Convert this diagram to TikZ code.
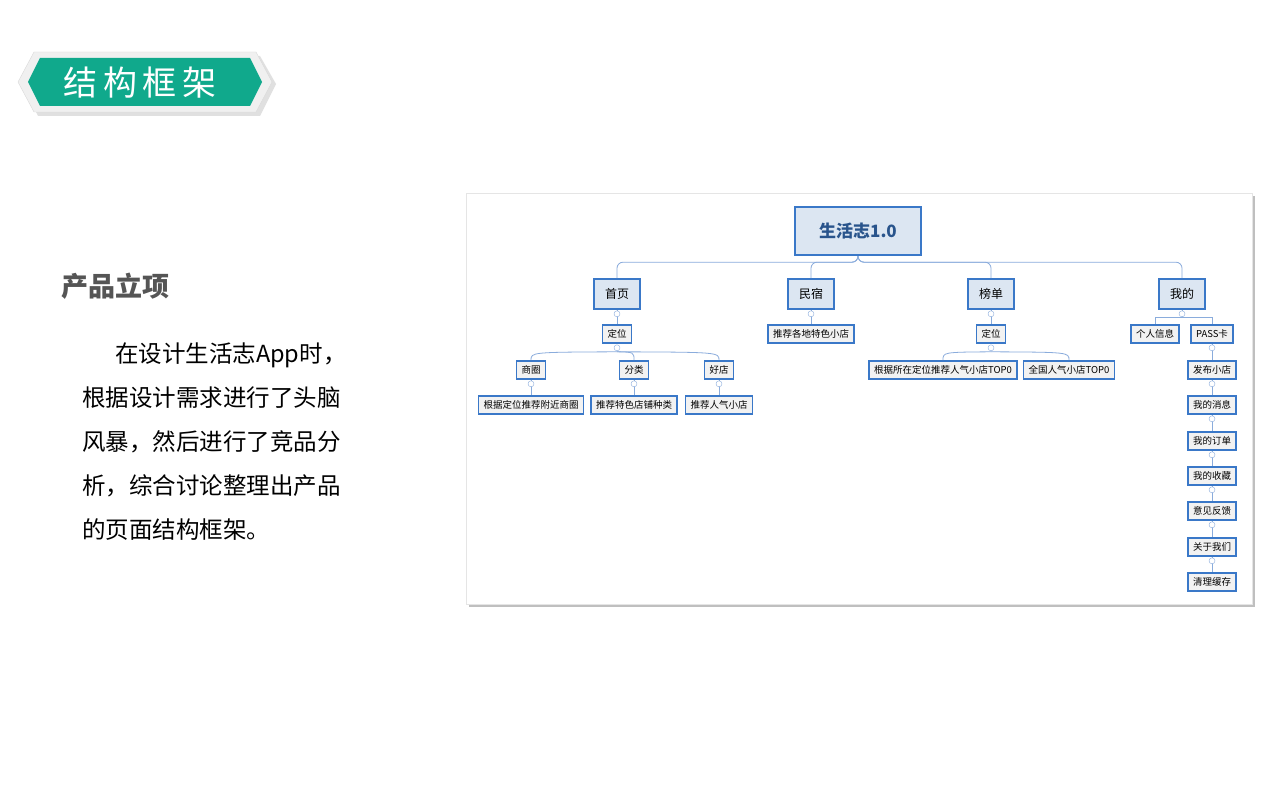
\documentclass[tikz,border=0pt]{standalone}
\usepackage{fontspec}
\setmainfont{Noto Sans CJK SC}
\usetikzlibrary{positioning,shapes.geometric,calc}
\definecolor{teal1}{HTML}{10A98C}
\definecolor{edgeblue}{HTML}{3A78C8}
\definecolor{linkblue}{HTML}{8AACDC}
\definecolor{boxfill}{HTML}{DCE6F2}
\definecolor{leaffill}{HTML}{F2F2F2}
\definecolor{txtgray}{HTML}{555555}
\tikzset{
  root/.style={draw=edgeblue,line width=2.5pt,fill=boxfill,minimum width=126pt,minimum height=48pt,font=\fontsize{17}{17}\selectfont\bfseries,text=edgeblue!70!black},
  topic/.style={draw=edgeblue,line width=1.6pt,fill=boxfill,minimum width=46pt,minimum height=30pt,font=\fontsize{12}{12}\selectfont},
  leaf/.style={draw=edgeblue,line width=1.6pt,fill=leaffill,minimum height=18pt,inner xsep=5pt,font=\fontsize{9.5}{9.5}\selectfont},
  link/.style={draw=linkblue,line width=0.8pt,rounded corners=6pt},
  knob/.style={circle,draw=linkblue,fill=white,inner sep=0pt,minimum size=6pt}
}
\begin{document}
\begin{tikzpicture}[x=1pt,y=-1pt]
	\useasboundingbox (0,0) rectangle (1280,797);
	\fill[white] (0,0) rectangle (1280,797);

	% title banner
	\fill[black!12] (22,84) -- (38,56) -- (260,56) -- (276,84) -- (260,116) -- (38,116) -- cycle;
	\fill[black!6,draw=black!15] (18,82) -- (34,52) -- (256,52) -- (272,82) -- (256,112) -- (34,112) -- cycle;
	\fill[teal1] (28,82) -- (40,58) -- (250,58) -- (262,82) -- (250,106) -- (40,106) -- cycle;
	\node (title) [text=white,font=\fontsize{34}{34}\selectfont] at (140,83) {结\,构\,框\,架};

	% left text
	\node (head) [anchor=west,text=txtgray,font=\fontsize{27}{27}\selectfont\bfseries] at (58,286) {产品立项};
	\node (para) [anchor=north west,inner sep=0pt,font=\fontsize{23.5}{44}\selectfont,align=left] at (82,343)
		{\hspace*{1.4em}在设计生活志App时，\\根据设计需求进行了头脑\\风暴，然后进行了竞品分\\析，综合讨论整理出产品\\的页面结构框架。};

	% panel
	\fill[black!25] (469,196) rectangle (1255,607);
	\fill[white,draw=black!10] (466,193) rectangle (1252,604);

	\node (root) [root] at (858,231) {生活志1.0};
	\node (home) [topic] at (617,294) {首页};
	\node (stay) [topic] at (811,294) {民宿};
	\node (rank) [topic] at (991,294) {榜单};
	\node (mine) [topic] at (1182,294) {我的};

	\node (loc1) [leaf] at (617,334) {定位};
	\node (stayrec) [leaf] at (811,334) {推荐各地特色小店};
	\node (loc2) [leaf] at (991,334) {定位};
	\node (info) [leaf] at (1155,334) {个人信息};
	\node (pass) [leaf] at (1212,334) {PASS卡};

	\node (area) [leaf] at (531,370) {商圈};
	\node (cat) [leaf] at (634,370) {分类};
	\node (shop) [leaf] at (719,370) {好店};
	\node (arearec) [leaf] at (531,405) {根据定位推荐附近商圈};
	\node (catrec) [leaf] at (634,405) {推荐特色店铺种类};
	\node (shoprec) [leaf] at (719,405) {推荐人气小店};

	\node (top1) [leaf] at (943,370) {根据所在定位推荐人气小店TOP0};
	\node (top2) [leaf] at (1069,370) {全国人气小店TOP0};

	\node (m1) [leaf] at (1212,370) {发布小店};
	\node (m2) [leaf] at (1212,405) {我的消息};
	\node (m3) [leaf] at (1212,441) {我的订单};
	\node (m4) [leaf] at (1212,476) {我的收藏};
	\node (m5) [leaf] at (1212,511) {意见反馈};
	\node (m6) [leaf] at (1212,547) {关于我们};
	\node (m7) [leaf] at (1212,582) {清理缓存};

	% connectors
	\foreach \t in {home,stay,rank,mine}
		\draw[link] (root.south) |- ($(\t.north)+(0,-16)$) -- (\t.north);
	\foreach \a/\b in {home/loc1,stay/stayrec,rank/loc2,area/arearec,cat/catrec,shop/shoprec,pass/m1,m1/m2,m2/m3,m3/m4,m4/m5,m5/m6,m6/m7}
		\draw[link] (\a.south) -- (\b.north);
	\foreach \c in {area,cat,shop}
		\draw[link] ($(loc1.south)+(0,8)$) .. controls ($(\c.north)+(0,-8)$) .. (\c.north);
	\foreach \c in {top1,top2}
		\draw[link] ($(loc2.south)+(0,8)$) .. controls ($(\c.north)+(0,-8)$) .. (\c.north);
	\foreach \c in {info,pass}
		\draw[link,rounded corners=0pt] (mine.south) |- ($(\c.north)+(0,-7)$) -- (\c.north);

	% collapse knobs
	\foreach \p in {home,stay,rank,mine,loc1,loc2,area,cat,shop,pass,m1,m2,m3,m4,m5,m6}
		\node (k-\p) [knob] at ($(\p.south)+(0,4)$) {};
\end{tikzpicture}
\end{document}
